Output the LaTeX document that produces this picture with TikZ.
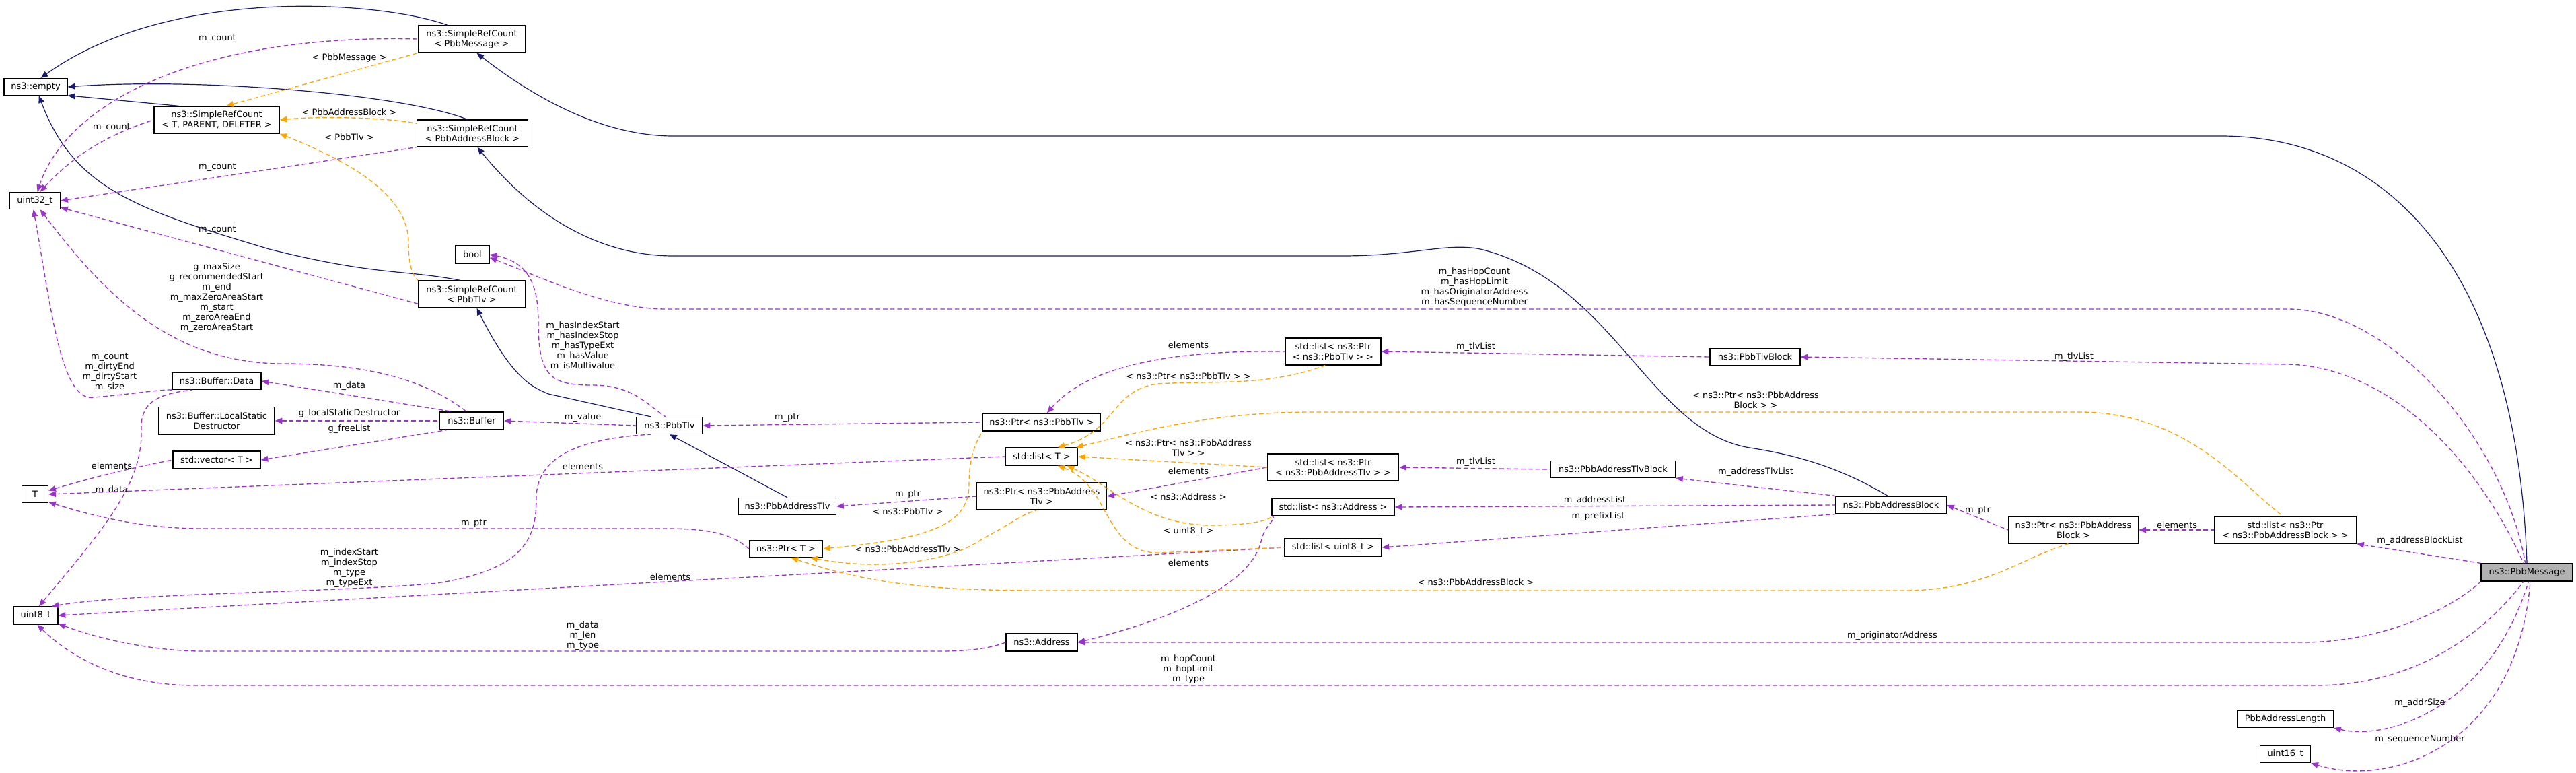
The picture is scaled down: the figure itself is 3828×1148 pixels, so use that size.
\documentclass[tikz,border=0pt]{standalone}
\usepackage{fontspec}
\setmainfont{DejaVu Sans}
\usepackage{xcolor}
\definecolor{navy}{HTML}{191970}
\definecolor{purple}{HTML}{9A32CD}
\definecolor{orange}{HTML}{FFA500}
\usetikzlibrary{arrows.meta}
\tikzset{
  cls/.style 2 args={draw=black, line width=1pt, fill=white, align=center, inner sep=0pt,
    minimum width=#1*0.75pt, minimum height=#2*0.75pt},
  lbl/.style={align=center, inner sep=0pt},
  inh/.style={navy, line width=0.9pt, {Triangle[length=8pt,width=6.5pt]}-},
  use/.style={purple, line width=1pt, dash pattern=on 5pt off 3pt, {Triangle[length=8pt,width=6.5pt]}-},
  tmpl/.style={orange, line width=1pt, dash pattern=on 5pt off 3pt, {Triangle[length=8pt,width=6.5pt]}-}
}

\begin{document}
\begin{tikzpicture}[x=0.75pt, y=-0.75pt, font=\fontsize{9.7}{11.25}\selectfont]
	\useasboundingbox (0,0) rectangle (3828,1148);
	%classes
	\node[cls={94}{25}] (empty) at (53,129) {ns3::empty};
	\node[cls={75}{25}] (uint32) at (52,298) {uint32\_t};
	\node[cls={39}{25}] (T) at (52,734) {T};
	\node[cls={66}{26}] (uint8) at (53,914) {uint8\_t};
	\node[cls={186}{40}] (srcT) at (322,178) {ns3::SimpleRefCount\\< T, PARENT, DELETER >};
	\node[cls={132}{25}] (data) at (322,566) {ns3::Buffer::Data};
	\node[cls={172}{41}] (lsd) at (322,625) {ns3::Buffer::LocalStatic\\Destructor};
	\node[cls={130}{26}] (vec) at (322,683) {std::vector< T >};
	\node[cls={159}{40}] (srcMsg) at (701,58) {ns3::SimpleRefCount\\< PbbMessage >};
	\node[cls={165}{40}] (srcAB) at (702,198) {ns3::SimpleRefCount\\< PbbAddressBlock >};
	\node[cls={50}{26}] (bool) at (702,378) {bool};
	\node[cls={159}{40}] (srcTlv) at (701,437) {ns3::SimpleRefCount\\< PbbTlv >};
	\node[cls={95}{26}] (buffer) at (701,625) {ns3::Buffer};
	\node[cls={98}{25}] (tlv) at (995,632) {ns3::PbbTlv};
	\node[cls={145}{25}] (addrTlv) at (1170,752) {ns3::PbbAddressTlv};
	\node[cls={109}{25}] (ptrT) at (1168,815) {ns3::Ptr< T >};
	\node[cls={175}{26}] (ptrTlv) at (1548,627) {ns3::Ptr< ns3::PbbTlv >};
	\node[cls={107}{26}] (listT) at (1548,678) {std::list< T >};
	\node[cls={193}{40}] (ptrAddrTlv) at (1548,737) {ns3::Ptr< ns3::PbbAddress\\Tlv >};
	\node[cls={106}{26}] (address) at (1548,954) {ns3::Address};
	\node[cls={142}{40}] (listPtrTlv) at (1981,522) {std::list< ns3::Ptr\\< ns3::PbbTlv > >};
	\node[cls={195}{40}] (listPtrAddrTlv) at (1981,694) {std::list< ns3::Ptr\\< ns3::PbbAddressTlv > >};
	\node[cls={182}{25}] (listAddr) at (1981,753) {std::list< ns3::Address >};
	\node[cls={144}{26}] (listU8) at (1981,813) {std::list< uint8\_t >};
	\node[cls={185}{25}] (addrTlvBlock) at (2397,697) {ns3::PbbAddressTlvBlock};
	\node[cls={134}{25}] (tlvBlock) at (2608,530) {ns3::PbbTlvBlock};
	\node[cls={165}{26}] (addrBlock) at (2810,750) {ns3::PbbAddressBlock};
	\node[cls={193}{40}] (ptrAB) at (3081,787) {ns3::Ptr< ns3::PbbAddress\\Block >};
	\node[cls={211}{40}] (listPtrAB) at (3396,787) {std::list< ns3::Ptr\\< ns3::PbbAddressBlock > >};
	\node[cls={143}{25}] (addrLen) at (3396,1068) {PbbAddressLength};
	\node[cls={75}{25}] (uint16) at (3396,1120) {uint16\_t};
	\node[cls={136}{26}, fill=black!30] (msg) at (3755,850) {ns3::PbbMessage};

	%inheritance
	\draw[inh] (empty.60) .. controls (250,-20) and (560,0) .. (srcMsg.150);
	\draw[inh] (empty.345) -- (srcT.160);
	\draw[inh] (empty.east) .. controls (300,115) and (600,140) .. (srcAB.110);
	\draw[inh] (empty.290) .. controls (110,280) and (200,310) .. (400,370) .. controls (560,410) and (600,400) .. (srcTlv.130);
	\draw[inh] (srcMsg.290) .. controls (800,150) and (900,202) .. (1000,202) -- (3300,202) .. controls (3550,202) and (3740,400) .. (msg.north);
	\draw[inh] (srcAB.290) .. controls (800,330) and (900,380) .. (1000,380) -- (1995,380) .. controls (2100,380) and (2150,360) .. (2200,370) .. controls (2400,420) and (2450,640) .. (2600,665) .. controls (2700,680) and (2760,710) .. (addrBlock.110);
	\draw[inh] (srcTlv.290) .. controls (760,560) and (790,575) .. (815,585) -- (tlv.155);
	\draw[inh] (tlv.south) -- (addrTlv.north);

	%members
	\draw[use] (uint32.75) .. controls (100,150) and (300,50) .. (srcMsg.west);
	\node[lbl] (lc1) at (323,57) {m\_count};
	\draw[use] (uint32.60) .. controls (110,230) and (160,200) .. (srcT.west);
	\node[lbl] (lc2) at (166,189) {m\_count};
	\draw[use] (uint32.east) -- (srcAB.south west);
	\node[lbl] (lc3) at (323,248) {m\_count};
	\draw[use] (uint32.-15) -- (srcTlv.190);
	\node[lbl] (lc4) at (323,341) {m\_count};
	\draw[use] (uint32.-60) .. controls (150,430) and (250,540) .. (420,540) .. controls (560,540) and (640,570) .. (buffer.120);
	\node[lbl] (lbuf) at (322,442) {g\_maxSize\\g\_recommendedStart\\m\_end\\m\_maxZeroAreaStart\\m\_start\\m\_zeroAreaEnd\\m\_zeroAreaStart};
	\draw[use] (uint32.-100) .. controls (75,450) and (90,600) .. (140,590) .. controls (200,585) and (240,578) .. (data.south west);
	\node[lbl] (ldata) at (163,553) {m\_count\\m\_dirtyEnd\\m\_dirtyStart\\m\_size};
	\draw[use] (uint8.70) .. controls (150,790) and (212,720) .. (210,640) .. controls (208,600) and (230,585) .. (data.200);
	\node[lbl] (ldat2) at (166,728) {m\_data};
	\draw[use] (data.east) -- (buffer.155);
	\node[lbl] (ldat3) at (519,573) {m\_data};
	\draw[use] (lsd.east) -- (buffer.west);
	\node[lbl] (llsd) at (519,614) {g\_localStaticDestructor};
	\draw[use] (vec.east) -- (buffer.200);
	\node[lbl] (lfree) at (519,637) {g\_freeList};
	\draw[use] (T.15) .. controls (150,705) and (220,690) .. (vec.west);
	\node[lbl] (lel1) at (166,692) {elements};
	\draw[use] (T.east) -- (listT.west);
	\node[lbl] (lel2) at (866,693) {elements};
	\draw[use] (T.-30) .. controls (150,770) and (220,785) .. (300,785) -- (990,785) .. controls (1060,785) and (1090,795) .. (ptrT.west);
	\node[lbl] (lptr1) at (704,777) {m\_ptr};
	\draw[use] (buffer.east) -- (tlv.west);
	\node[lbl] (lval) at (866,620) {m\_value};
	\draw[use] (bool.east) .. controls (790,390) and (800,430) .. (800,480) .. controls (800,560) and (820,572) .. (880,572) .. controls (940,572) and (960,600) .. (tlv.115);
	\node[lbl] (lbool) at (866,514) {m\_hasIndexStart\\m\_hasIndexStop\\m\_hasTypeExt\\m\_hasValue\\m\_isMultivalue};
	\draw[use] (uint8.30) .. controls (200,880) and (500,880) .. (650,866) .. controls (780,845) and (797,800) .. (797,740) .. controls (797,670) and (880,650) .. (tlv.205);
	\node[lbl] (lidx) at (519,844) {m\_indexStart\\m\_indexStop\\m\_type\\m\_typeExt};
	\draw[use] (uint8.east) -- (listU8.west);
	\node[lbl] (lel3) at (996,857) {elements};
	\draw[use] (uint8.-20) .. controls (150,950) and (230,967) .. (300,967) -- (1400,967) .. controls (1450,967) and (1480,960) .. (address.west);
	\node[lbl] (laddr) at (866,944) {m\_data\\m\_len\\m\_type};
	\draw[use] (tlv.east) -- (ptrTlv.west);
	\node[lbl] (lptr2) at (1170,620) {m\_ptr};
	\draw[use] (ptrTlv.60) .. controls (1620,540) and (1750,520) .. (listPtrTlv.west);
	\node[lbl] (lel4) at (1766,513) {elements};
	\draw[use] (addrTlv.east) -- (ptrAddrTlv.west);
	\node[lbl] (lptr3) at (1349,734) {m\_ptr};
	\draw[use] (ptrAddrTlv.east) -- (listPtrAddrTlv.west);
	\node[lbl] (lel5) at (1766,700) {elements};
	\draw[use] (listPtrTlv.east) -- (tlvBlock.west);
	\node[lbl] (ltlv1) at (2193,515) {m\_tlvList};
	\draw[use] (listPtrAddrTlv.east) -- (addrTlvBlock.west);
	\node[lbl] (ltlv2) at (2193,686) {m\_tlvList};
	\draw[use] (addrTlvBlock.south east) -- (addrBlock.north west);
	\node[lbl] (latl) at (2609,701) {m\_addressTlvList};
	\draw[use] (listAddr.east) -- (addrBlock.west);
	\node[lbl] (lal) at (2370,743) {m\_addressList};
	\draw[use] (listU8.east) -- (addrBlock.south west);
	\node[lbl] (lpl) at (2375,767) {m\_prefixList};
	\draw[use] (address.east) .. controls (1700,930) and (1860,880) .. (1875,800) .. controls (1880,780) and (1900,768) .. (listAddr.south west);
	\node[lbl] (lel6) at (1766,836) {elements};
	\draw[use] (addrBlock.east) -- (ptrAB.west);
	\node[lbl] (lptr4) at (2939,758) {m\_ptr};
	\draw[use] (ptrAB.east) -- (listPtrAB.west);
	\node[lbl] (lel7) at (3235,780) {elements};
	\draw[use] (listPtrAB.south east) -- (msg.north west);
	\node[lbl] (labl) at (3596,803) {m\_addressBlockList};
	\draw[use] (tlvBlock.east) -- (3400,541) .. controls (3550,545) and (3680,680) .. (msg.110);
	\node[lbl] (ltlv3) at (3082,530) {m\_tlvList};
	\draw[use] (bool.-10) .. controls (800,410) and (900,459) .. (990,459) -- (3400,459) .. controls (3550,459) and (3720,650) .. (msg.100);
	\node[lbl] (lhas) at (2191,427) {m\_hasHopCount\\m\_hasHopLimit\\m\_hasOriginatorAddress\\m\_hasSequenceNumber};
	\draw[use] (address.east) -- (3420,954) .. controls (3560,954) and (3660,890) .. (msg.south west);
	\node[lbl] (lorig) at (2812,944) {m\_originatorAddress};
	\draw[use] (uint8.-80) .. controls (120,990) and (200,1018) .. (290,1018) -- (3440,1018) .. controls (3600,1018) and (3700,930) .. (msg.250);
	\node[lbl] (lhop) at (1766,994) {m\_hopCount\\m\_hopLimit\\m\_type};
	\draw[use] (addrLen.south east) .. controls (3550,1100) and (3700,1050) .. (msg.280);
	\node[lbl] (lsize) at (3596,1044) {m\_addrSize};
	\draw[use] (uint16.south east) .. controls (3550,1170) and (3740,1110) .. (msg.290);
	\node[lbl] (lseq) at (3596,1098) {m\_sequenceNumber};

	%templates
	\draw[tmpl] (srcT.55) -- (srcMsg.south west);
	\node[lbl] (lt1) at (519,86) {< PbbMessage >};
	\draw[tmpl] (srcT.east) .. controls (480,172) and (580,175) .. (srcAB.170);
	\node[lbl] (lt2) at (519,167) {< PbbAddressBlock >};
	\draw[tmpl] (srcT.south east) .. controls (520,240) and (607,290) .. (607,360) .. controls (607,400) and (615,410) .. (srcTlv.north west);
	\node[lbl] (lt3) at (519,204) {< PbbTlv >};
	\draw[tmpl] (ptrT.east) .. controls (1380,800) and (1440,780) .. (1440,720) .. controls (1440,670) and (1455,650) .. (ptrTlv.south west);
	\node[lbl] (lt4) at (1349,760) {< ns3::PbbTlv >};
	\draw[tmpl] (ptrT.-20) .. controls (1320,850) and (1420,830) .. (1460,800) .. controls (1500,780) and (1515,765) .. (ptrAddrTlv.250);
	\node[lbl] (lt5) at (1349,816) {< ns3::PbbAddressTlv >};
	\draw[tmpl] (ptrT.-60) .. controls (1300,870) and (1400,877) .. (1550,877) -- (2830,877) .. controls (2950,877) and (3000,830) .. (ptrAB.250);
	\node[lbl] (lt6) at (2193,865) {< ns3::PbbAddressBlock >};
	\draw[tmpl] (listT.30) .. controls (1660,640) and (1650,580) .. (1720,570) .. controls (1800,565) and (1880,575) .. (listPtrTlv.240);
	\node[lbl] (lt7) at (1766,559) {< ns3::Ptr< ns3::PbbTlv > >};
	\draw[tmpl] (listT.east) -- (listPtrAddrTlv.west);
	\node[lbl] (lt8) at (1766,665) {< ns3::Ptr< ns3::PbbAddress\\Tlv > >};
	\draw[tmpl] (listT.-20) .. controls (1650,720) and (1700,780) .. (1800,780) .. controls (1860,780) and (1890,772) .. (listAddr.south west);
	\node[lbl] (lt9) at (1766,738) {< ns3::Address >};
	\draw[tmpl] (listT.-30) .. controls (1650,720) and (1640,820) .. (1720,821) -- (listU8.west);
	\node[lbl] (lt10) at (1766,789) {< uint8\_t >};
	\draw[tmpl] (listT.15) .. controls (1700,640) and (1800,612) .. (1950,612) -- (3090,612) .. controls (3250,612) and (3330,720) .. (listPtrAB.100);
	\node[lbl] (lt11) at (2609,594) {< ns3::Ptr< ns3::PbbAddress\\Block > >};
\end{tikzpicture}
\end{document}
